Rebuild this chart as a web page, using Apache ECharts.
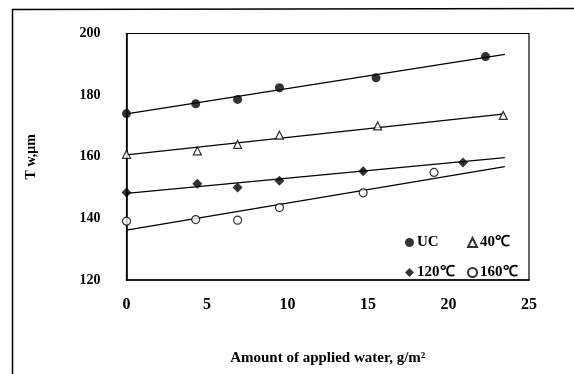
<!DOCTYPE html>
<html>
<head>
<meta charset="utf-8">
<script src="https://cdn.jsdelivr.net/npm/echarts@6/dist/echarts.min.js"></script>
<style>
  html, body { margin: 0; padding: 0; background: #fff; }
  #chart { width: 574px; height: 374px; }
</style>
</head>
<body>
<div id="chart"></div>
<script>
// Valeurs
const xTicks = [0, 5, 10, 15, 20, 25];
const yTicks = [120, 140, 160, 180, 200];

const seriesNames = ["UC", "40℃", "120℃", "160℃"];

const waterUC = [0, 4.3, 6.9, 9.5, 15.5, 22.3];
const twUC = [174.0, 177.2, 178.6, 182.4, 185.6, 192.5];

const water40 = [0, 4.4, 6.9, 9.5, 15.6, 23.4];
const tw40 = [160.8, 161.9, 164.0, 167.0, 170.0, 173.4];

const water120 = [0, 4.4, 6.9, 9.5, 14.7, 20.9];
const tw120 = [148.4, 151.2, 150.0, 152.2, 155.3, 158.1];

const water160 = [0, 4.3, 6.9, 9.5, 14.7, 19.1];
const tw160 = [139.1, 139.6, 139.4, 143.5, 148.3, 154.9];

// Droites de tendance : extrémités
const trendX = [0, 23.5];
const trendUC = [173.9, 193.2];
const trend40 = [160.6, 173.9];
const trend120 = [148.1, 159.7];
const trend160 = [136.2, 156.8];

const serif = "Liberation Serif";

function pairs(xs, ys) {
  return xs.map((x, i) => [x, ys[i]]);
}

function scatter(name, xs, ys, symbol, filled, size) {
  return {
    name: name,
    type: "scatter",
    symbol: symbol,
    symbolSize: size,
    itemStyle: {
      color: filled ? "#000" : "#fff",
      borderColor: "#000",
      borderWidth: filled ? 0 : 1.2,
    },
    data: pairs(xs, ys),
    z: 3,
  };
}

function trend(ys) {
  return {
    type: "line",
    symbol: "none",
    silent: true,
    lineStyle: { color: "#000", width: 1.2 },
    data: pairs(trendX, ys),
    z: 2,
  };
}

function legendAt(name, left, top) {
  return {
    data: [name],
    left: left,
    top: top,
    itemWidth: 9,
    itemHeight: 9,
    itemGap: 0,
    textStyle: {
      fontFamily: serif,
      fontWeight: "bold",
      fontSize: 15,
      color: "#000",
      padding: [0, 0, 0, -2],
    },
  };
}

const dom = document.getElementById("chart");
const myChart = echarts.init(dom, null, { renderer: "canvas" });

myChart.setOption({
  animation: false,
  backgroundColor: "#fff",
  grid: {
    left: 126.5,
    right: 45,
    top: 33.5,
    bottom: 94,
    show: true,
    borderColor: "#000",
    borderWidth: 1.2,
  },
  legend: [
    legendAt(seriesNames[0], 400, 230),
    legendAt(seriesNames[1], 462, 230),
    legendAt(seriesNames[2], 400, 260),
    legendAt(seriesNames[3], 462, 260),
  ],
  xAxis: {
    type: "value",
    min: xTicks[0],
    max: xTicks[xTicks.length - 1],
    interval: 5,
    name: "Amount of applied water, g/m²",
    nameLocation: "middle",
    nameGap: 71,
    nameTextStyle: {
      fontFamily: serif,
      fontWeight: "bold",
      fontSize: 15,
      color: "#000",
    },
    axisLine: { show: true, lineStyle: { color: "#000", width: 1.6 } },
    axisTick: { show: false },
    splitLine: { show: false },
    axisLabel: {
      margin: 17,
      fontFamily: serif,
      fontWeight: "bold",
      fontSize: 16,
      color: "#000",
    },
  },
  yAxis: {
    type: "value",
    min: yTicks[0],
    max: yTicks[yTicks.length - 1],
    interval: 20,
    name: "T w,μm",
    nameLocation: "middle",
    nameGap: 88,
    nameRotate: 90,
    nameTextStyle: {
      fontFamily: serif,
      fontWeight: "bold",
      fontSize: 14,
      color: "#000",
    },
    axisLine: { show: true, lineStyle: { color: "#000", width: 1.6 } },
    axisTick: { show: false },
    splitLine: { show: false },
    axisLabel: {
      margin: 26,
      fontFamily: serif,
      fontWeight: "bold",
      fontSize: 14,
      color: "#000",
    },
  },
  // Cadre extérieur de la figure scannée
  graphic: [
    {
      type: "line",
      shape: { x1: 12, y1: 9.5, x2: 574, y2: 8.5 },
      style: { stroke: "#000", lineWidth: 1.5 },
    },
    {
      type: "line",
      shape: { x1: 12.5, y1: 9, x2: 12.5, y2: 374 },
      style: { stroke: "#000", lineWidth: 1.5 },
    },
  ],
  series: [
    trend(trendUC),
    trend(trend40),
    trend(trend120),
    trend(trend160),
    scatter(seriesNames[0], waterUC, twUC, "circle", true, 9),
    scatter(seriesNames[1], water40, tw40, "triangle", false, 8),
    scatter(seriesNames[2], water120, tw120, "diamond", true, 10),
    scatter(seriesNames[3], water160, tw160, "circle", false, 8),
  ],
});
</script>
</body>
</html>
